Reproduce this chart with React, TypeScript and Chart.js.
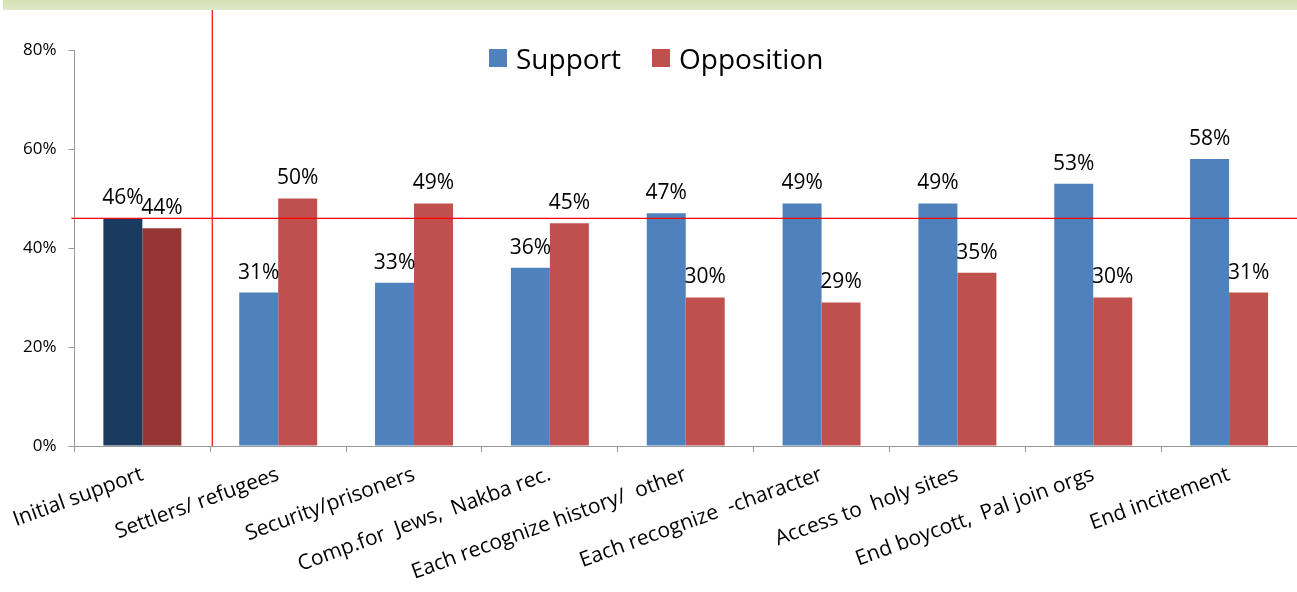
import React, { useEffect, useRef } from "react";
import { Chart, registerables } from "chart.js";

Chart.register(...registerables);

const categories = [
  "Initial support",
  "Settlers/ refugees",
  "Security/prisoners",
  "Comp.for  Jews,  Nakba rec.",
  "Each recognize history/  other",
  "Each recognize  -character",
  "Access to  holy sites",
  "End boycott,  Pal join orgs",
  "End incitement",
];
const supportValues = [46, 31, 33, 36, 47, 49, 49, 53, 58];
const oppositionValues = [44, 50, 49, 45, 30, 29, 35, 30, 31];
const yTicks = [0, 20, 40, 60, 80];
const baselineValue = 46;

const SUPPORT = "#4F81BD";
const OPPOSITION = "#C0504D";
const SUPPORT_DARK = "#1B3A5F";
const OPPOSITION_DARK = "#943634";
const FONT = "'Open Sans', sans-serif";

const dataLabelPlugin = {
  id: "dataLabels",
  afterDatasetsDraw(chart: any) {
    const ctx = chart.ctx;
    ctx.save();
    ctx.font = `21px ${FONT}`;
    ctx.fillStyle = "#000";
    ctx.textAlign = "center";
    ctx.textBaseline = "middle";
    chart.data.datasets.forEach((ds: any, di: number) => {
      const meta = chart.getDatasetMeta(di);
      meta.data.forEach((el: any, i: number) => {
        ctx.fillText(`${ds.data[i]}%`, el.x, el.y - 20);
      });
    });
    ctx.restore();
  },
};

const refLinesPlugin = {
  id: "refLines",
  afterDraw(chart: any) {
    const ctx = chart.ctx;
    const xs = chart.scales.x;
    const ys = chart.scales.y;
    const y = ys.getPixelForValue(baselineValue);
    const vx = (xs.getPixelForValue(0) + xs.getPixelForValue(1)) / 2 + 2;
    ctx.save();
    ctx.strokeStyle = "#FF0000";
    ctx.lineWidth = 1.2;
    ctx.beginPath();
    ctx.moveTo(chart.chartArea.left - 3, y);
    ctx.lineTo(chart.width, y);
    ctx.stroke();
    ctx.beginPath();
    ctx.moveTo(vx, 10);
    ctx.lineTo(vx, ys.bottom);
    ctx.stroke();
    ctx.restore();
  },
};

export default function App() {
  const ref = useRef<HTMLCanvasElement | null>(null);
  useEffect(() => {
    if (!ref.current) return;
    const chart = new Chart(ref.current, {
      type: "bar",
      data: {
        labels: categories,
        datasets: [
          {
            label: "Support",
            data: supportValues,
            backgroundColor: supportValues.map((_, i) => (i === 0 ? SUPPORT_DARK : SUPPORT)),
            categoryPercentage: 0.574,
            barPercentage: 1,
          },
          {
            label: "Opposition",
            data: oppositionValues,
            backgroundColor: oppositionValues.map((_, i) => (i === 0 ? OPPOSITION_DARK : OPPOSITION)),
            categoryPercentage: 0.574,
            barPercentage: 1,
          },
        ],
      },
      options: {
        responsive: false,
        animation: false,
        layout: { padding: { top: 50, left: 0, right: 0, bottom: 0 } },
        plugins: {
          legend: { display: false },
          tooltip: { enabled: false },
        },
        scales: {
          x: {
            grid: { drawOnChartArea: false, tickLength: 6, color: "#999", offset: true },
            border: { color: "#999" },
            ticks: {
              minRotation: 20,
              maxRotation: 20,
              autoSkip: false,
              padding: 10,
              color: "#000",
              font: { family: FONT, size: 21 },
            },
            afterFit: (s: any) => {
              s.height = 146;
            },
          },
          y: {
            min: 0,
            max: 80,
            afterBuildTicks: (s: any) => {
              s.ticks = yTicks.map((v) => ({ value: v }));
            },
            grid: { drawOnChartArea: false, tickLength: 6, color: "#999" },
            border: { color: "#999" },
            ticks: {
              padding: 12,
              color: "#000",
              font: { family: FONT, size: 17 },
              callback: (v: any) => `${v}%`,
            },
            afterFit: (s: any) => {
              s.width = 73;
            },
          },
        },
      },
      plugins: [dataLabelPlugin, refLinesPlugin],
    });
    return () => chart.destroy();
  }, []);

  const legendItem = (color: string, text: string) => (
    <div style={{ display: "flex", alignItems: "center", marginRight: 31 }}>
      <div style={{ width: 18, height: 18, background: color, marginRight: 9 }} />
      <span style={{ fontFamily: FONT, fontSize: 28, lineHeight: "18px", color: "#000" }}>{text}</span>
    </div>
  );

  return (
    <div style={{ position: "absolute", left: 0, top: 0, width: 1297, height: 592, background: "#fff", overflow: "hidden" }}>
      <canvas ref={ref} width={1297} height={592} style={{ position: "absolute", left: 0, top: 0 }} />
      <div
        style={{
          position: "absolute",
          left: 3,
          top: 0,
          width: 1294,
          height: 10,
          background: "linear-gradient(#d3e1b4, #e0eacb)",
        }}
      />
      <div style={{ position: "absolute", left: 489, top: 49, display: "flex", alignItems: "center" }}>
        {legendItem(SUPPORT, "Support")}
        {legendItem(OPPOSITION, "Opposition")}
      </div>
    </div>
  );
}
